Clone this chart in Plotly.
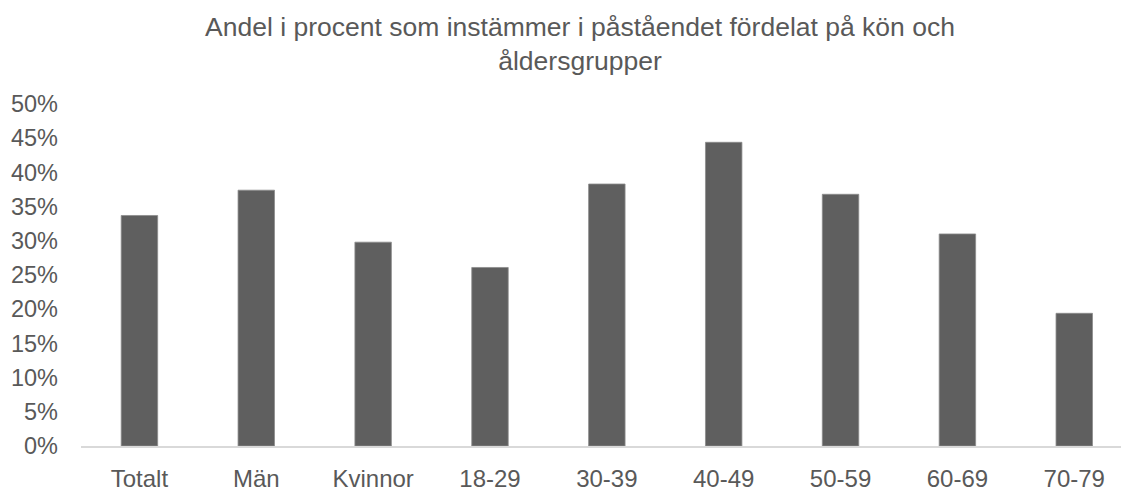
import plotly.graph_objects as go

categories = ["Totalt", "Män", "Kvinnor", "18-29", "30-39", "40-49", "50-59", "60-69", "70-79"]
values = [0.337, 0.374, 0.298, 0.261, 0.383, 0.444, 0.368, 0.310, 0.194]
y_ticks = [0, 0.05, 0.10, 0.15, 0.20, 0.25, 0.30, 0.35, 0.40, 0.45, 0.50]
y_tick_labels = ["0%", "5%", "10%", "15%", "20%", "25%", "30%", "35%", "40%", "45%", "50%"]
title_text = "Andel i procent som instämmer i påståendet fördelat på kön och<br>åldersgrupper"

FONT = "Liberation Sans, Arial, sans-serif"
TXT = "#595959"

fig = go.Figure(
    go.Bar(
        x=categories,
        y=values,
        width=0.312,
        marker=dict(color="#5f5f5f", line=dict(color="#8c8c8c", width=0.8)),
        hoverinfo="x+y",
    )
)

fig.update_layout(
    width=1121,
    height=492,
    paper_bgcolor="white",
    plot_bgcolor="white",
    margin=dict(l=81, r=0, t=104, b=42, pad=0),
    showlegend=False,
    font=dict(family=FONT, color=TXT),
    title=dict(
        text=title_text,
        xref="container",
        x=580 / 1121,
        xanchor="center",
        yref="container",
        y=1 - 36 / 492,
        yanchor="top",
        font=dict(family=FONT, size=26.5, color=TXT),
    ),
    xaxis=dict(
        type="category",
        range=[-0.5, 8.4],
        showline=True,
        linecolor="#d9d9d9",
        linewidth=1.5,
        showgrid=False,
        zeroline=False,
        ticks="",
        ticklabelstandoff=10,
        tickfont=dict(family=FONT, size=24, color=TXT),
    ),
    yaxis=dict(
        range=[0, 0.5],
        tickvals=y_ticks,
        ticktext=y_tick_labels,
        showgrid=False,
        zeroline=False,
        showline=False,
        ticks="",
        ticklabelstandoff=22,
        tickfont=dict(family=FONT, size=23.5, color=TXT),
    ),
)

fig.write_html(
    "out.html",
    config={"displayModeBar": False},
    post_script="document.body.style.margin='0';document.body.style.overflow='hidden';",
)
